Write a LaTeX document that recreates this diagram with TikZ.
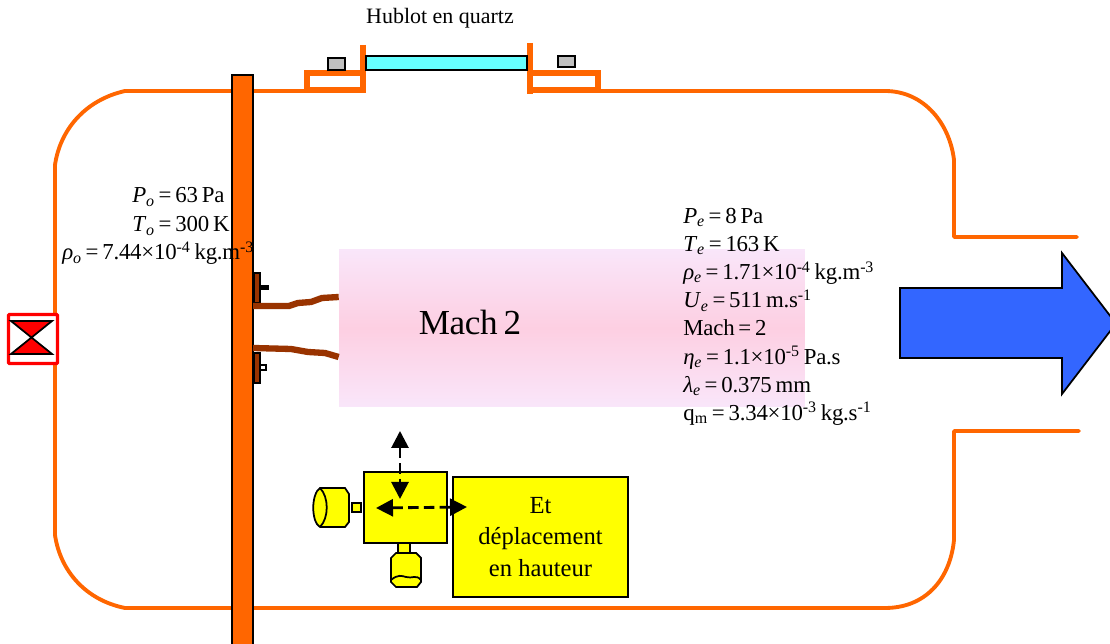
\documentclass[tikz,border=0pt]{standalone}
\usepackage{fontspec}
\setmainfont{Liberation Serif}
\newfontfamily\serre[WordSpace=0.7,LetterSpace=-1]{Liberation Serif}
\usetikzlibrary{arrows.meta, positioning, calc}

\definecolor{orangeparoi}{HTML}{FF6600}
\definecolor{brunsupport}{HTML}{993300}
\definecolor{bleuflux}{HTML}{3366FF}
\definecolor{cyanhublot}{HTML}{66FFFF}
\definecolor{grisvis}{HTML}{C0C0C0}
\definecolor{jaune}{HTML}{FFFF00}
\definecolor{rouge}{HTML}{FF0000}
\definecolor{roseclair}{HTML}{F9E6FA}
\definecolor{rosefonce}{HTML}{FDCFE2}
\newcommand{\sub}[1]{\textsubscript{#1}}
\newcommand{\expo}[1]{\textsuperscript{#1}}

\begin{document}
\begin{tikzpicture}[
    x=0.02cm, y=-0.02cm,
    paroi/.style={orangeparoi, line width=2.2pt, line cap=round, line join=round},
    bride/.style={orangeparoi, line width=2.9pt, line cap=butt, line join=miter},
    bord/.style={draw=black, line width=1pt, inner sep=0pt},
    piece/.style={bord, fill=jaune},
    vis/.style={bord, fill=grisvis, minimum width=0.34cm, minimum height=0.23cm},
    support/.style={bord, fill=brunsupport, minimum width=0.12cm, minimum height=0.6cm},
    tube/.style={brunsupport, line width=3.6pt},
    fleche/.style={{Triangle[length=3.4mm, width=3.4mm]}-{Triangle[length=3.4mm, width=3.4mm]},
                   dash pattern=on 6pt off 3pt, line width=1.6pt},
    param/.style={anchor=base west, inner sep=0pt, font=\fontsize{13}{16}\serre},
    titre/.style={font=\fontsize{12.5}{14}\selectfont, inner sep=0pt}
  ]
    \clip (0,0) rectangle (1110,644);
    \fill[white] (0,0) rectangle (1110,644);

    \draw[paroi] (1077,237) -- (954,237) -- (954,160)
      .. controls (950,125) and (925,91) .. (885,91) -- (600,91);
    \draw[paroi] (1079,431) -- (954,431) -- (954,540)
      .. controls (950,580) and (925,608) .. (885,608) -- (125,608)
      .. controls (85,600) and (60,570) .. (55,535) -- (55,165)
      .. controls (60,130) and (85,100) .. (125,91) -- (305,91);
    \draw[bride] (363,73) -- (307,73) -- (307,90) -- (363,90);
    \draw[bride] (530,73) -- (598,73) -- (598,90) -- (530,90);
    \draw[orangeparoi, line width=3.2pt] (363,45) -- (363,93);
    \draw[orangeparoi, line width=3.2pt] (530,43) -- (530,94);

    \node[bord, fill=cyanhublot, minimum width=3.22cm, minimum height=0.28cm] (hublot) at (446.5,63) {};
    \node[vis] (visg) at (336.5,64) {};
    \node[vis] (visd) at (566.5,61.5) {};
    \node[titre] (legende) at (440,18) {Hublot en quartz};

    \node[inner sep=0pt, minimum width=9.32cm, minimum height=3.16cm,
          top color=roseclair, bottom color=roseclair, middle color=rosefonce] (jet) at (572,328) {};
    \node[inner sep=0pt, font=\fontsize{20}{24}\serre] (mach) at (470,322) {Mach 2};

    \node[bord, fill=orangeparoi, minimum width=0.42cm, minimum height=11.4cm, anchor=north] (platine) at (242.5,74) {};

    \node[support, anchor=north west] (supporth) at (253,272) {};
    \node[support, anchor=north west] (supportb) at (253,352) {};
    \node[bord, fill=black, minimum width=0.12cm, minimum height=0.06cm, anchor=west] (pointeh) at (supporth.east) {};
    \node[bord, fill=white, minimum width=0.12cm, minimum height=0.1cm, anchor=west] (pointeb) at (259,367.5) {};
    \coordinate (tubeh) at (253,306);
    \coordinate (tubeb) at (253,348);
    \draw[tube] (tubeh) -- (289,306) -- (298,303) -- (311,302) -- (322,298) -- (jet.west |- 0,297);
    \draw[tube] (tubeb) -- (291,349) -- (308,352) -- (325,353) -- (jet.west |- 0,357);

    \node[draw=rouge, line width=1.9pt, fill=white, minimum width=0.98cm, minimum height=0.98cm, inner sep=0pt, rounded corners=0.5pt] (vanne) at (33,339) {};
    \draw[bord, fill=rouge, line join=miter] (11,321) -- (52,321) -- (11,354) -- (52,354) -- cycle;

    \draw[black, line width=1pt, fill=bleuflux, line join=miter] (900,288) -- (1062,288) -- (1062,253)
      -- (1116,323.5) -- (1062,394) -- (1062,358) -- (900,358) -- cycle;

    \node[piece, minimum width=1.66cm, minimum height=1.42cm] (boite) at (405.5,507.5) {};
    \node[piece, minimum width=3.5cm, minimum height=2.4cm, align=center,
          font=\fontsize{14}{18}\selectfont] (hauteur) at (540.5,537) {Et\\déplacement\\en hauteur};

    \node[piece, minimum width=0.18cm, minimum height=0.18cm] (axeg) at (356.5,507.5) {};
    \node[piece, minimum width=0.24cm, minimum height=0.2cm] (axeb) at (404,548) {};
    \draw[piece] (320,488) -- (345,488) -- (349,494) -- (349,522) -- (345,527) -- (320,527)
      .. controls (311,522) and (311,494) .. (320,488) -- cycle;
    \draw[bord] (320,488) .. controls (329,497) and (329,518) .. (320,527);
    \draw[piece] (396,553) -- (416,553) -- (421,558) -- (421,582) -- (417,587) -- (396,587) -- (391,582) -- (391,558) -- cycle;
    \draw[bord] (391,580) .. controls (398,574) and (402,576) .. (406,577) .. controls (412,579) and (416,574) .. (421,580);

    \coordinate (haut) at (400,431);
    \coordinate (bas) at (400,499);
    \coordinate (gauche) at (376,508);
    \coordinate (droite) at (467,507);
    \draw[fleche] (haut) -- (bas);
    \draw[fleche] (gauche) -- (droite);

    \node[param] (po) at (132,203) {\textit{P}\sub{\textit{o}} = 63 Pa};
    \node[param] (to) at (132,232) {\textit{T}\sub{\textit{o}} = 300 K};
    \node[param] (rhoo) at (62,260) {\textit{ρ}\sub{\textit{o}} = 7.44×10\expo{-4} kg.m\expo{-3}};

    \node[param, align=left, anchor=north west] (conditions) at (683,208) {\textit{P}\sub{\textit{e}} = 8 Pa\\
      \textit{T}\sub{\textit{e}} = 163 K\\
      \textit{ρ}\sub{\textit{e}} = 1.71×10\expo{-4} kg.m\expo{-3}\\
      \textit{U}\sub{\textit{e}} = 511 m.s\expo{-1}\\
      Mach = 2\\
      \textit{η}\sub{\textit{e}} = 1.1×10\expo{-5} Pa.s\\
      \textit{λ}\sub{\textit{e}} = 0.375 mm\\
      q\sub{m} = 3.34×10\expo{-3} kg.s\expo{-1}};
  \end{tikzpicture}
\end{document}
